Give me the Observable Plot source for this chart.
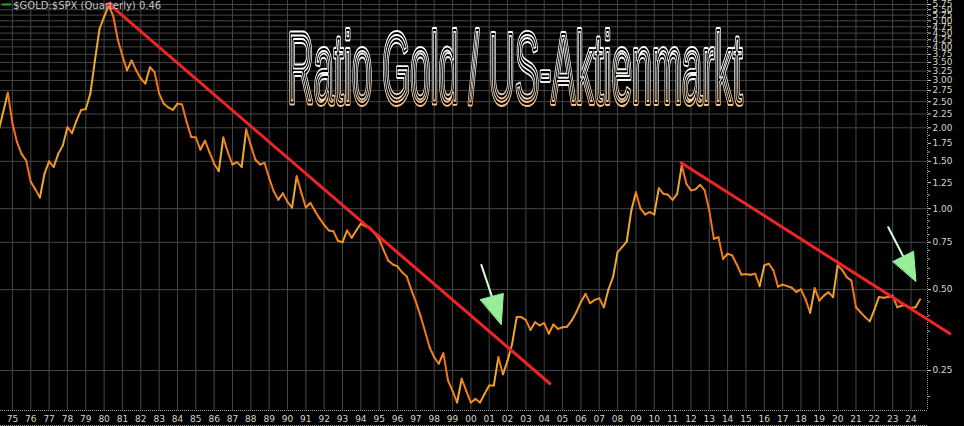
<!DOCTYPE html>
<html><head><meta charset="utf-8">
<script src="https://cdn.jsdelivr.net/npm/d3@7"></script>
<script src="https://cdn.jsdelivr.net/npm/@observablehq/plot@0.6"></script>
<style>html,body{margin:0;padding:0;background:#000;}</style>
</head><body><div id="chart"></div>
<script>
// ---- data ----
const years = [
1974.25,1974.75,1975.0,1975.25,1975.5,1975.75,1976.0,1976.25,1976.5,1976.75,
1977.0,1977.25,1977.5,1977.75,1978.0,1978.25,1978.5,1978.75,1979.0,1979.25,
1979.5,1979.75,1980.0,1980.25,1980.5,1980.75,1981.0,1981.25,1981.5,1981.75,
1982.0,1982.25,1982.5,1982.75,1983.0,1983.25,1983.5,1983.75,1984.0,1984.25,
1984.5,1984.75,1985.0,1985.25,1985.5,1985.75,1986.0,1986.25,1986.5,1986.75,
1987.0,1987.25,1987.5,1987.75,1988.0,1988.25,1988.5,1988.75,1989.0,1989.25,
1989.5,1989.75,1990.0,1990.25,1990.5,1990.75,1991.0,1991.25,1991.5,1991.75,
1992.0,1992.25,1992.5,1992.75,1993.0,1993.25,1993.5,1993.75,1994.0,1994.25,
1994.5,1994.75,1995.0,1995.25,1995.5,1995.75,1996.0,1996.25,1996.5,1996.75,
1997.0,1997.25,1997.5,1997.75,1998.0,1998.25,1998.5,1998.75,1999.0,1999.25,
1999.5,1999.75,2000.0,2000.25,2000.5,2000.75,2001.0,2001.25,2001.5,2001.75,
2002.0,2002.25,2002.5,2002.75,2003.0,2003.25,2003.5,2003.75,2004.0,2004.25,
2004.5,2004.75,2005.0,2005.25,2005.5,2005.75,2006.0,2006.25,2006.5,2006.75,
2007.0,2007.25,2007.5,2007.75,2008.0,2008.25,2008.5,2008.75,2009.0,2009.25,
2009.5,2009.75,2010.0,2010.25,2010.5,2010.75,2011.0,2011.25,2011.5,2011.75,
2012.0,2012.25,2012.5,2012.75,2013.0,2013.25,2013.5,2013.75,2014.0,2014.25,
2014.5,2014.75,2015.0,2015.25,2015.5,2015.75,2016.0,2016.25,2016.5,2016.75,
2017.0,2017.25,2017.5,2017.75,2018.0,2018.25,2018.5,2018.75,2019.0,2019.25,
2019.5,2019.75,2020.0,2020.25,2020.5,2020.75,2021.0,2021.25,2021.5,2021.75,
2022.0,2022.25,2022.5,2022.75,2023.0,2023.25,2023.5,2023.75,2024.0,2024.25,
2024.5];
const ratios = [
1.95,2.70,2.08,1.77,1.60,1.51,1.26,1.18,1.10,1.35,
1.50,1.43,1.60,1.72,2.01,1.91,2.13,2.33,2.35,2.68,
3.56,4.67,5.17,5.70,5.20,4.25,3.70,3.27,3.56,3.27,
3.05,2.92,3.36,3.22,2.68,2.46,2.38,2.33,2.46,2.44,
2.10,1.85,1.84,1.66,1.79,1.62,1.47,1.38,1.84,1.62,
1.46,1.49,1.43,1.97,1.72,1.52,1.46,1.48,1.30,1.16,
1.08,1.14,1.06,1.01,1.32,1.15,1.01,1.05,0.98,0.92,
0.87,0.83,0.825,0.76,0.75,0.83,0.78,0.83,0.88,0.86,
0.85,0.81,0.77,0.70,0.64,0.62,0.61,0.58,0.56,0.50,
0.45,0.40,0.35,0.305,0.28,0.265,0.29,0.23,0.21,0.19,
0.233,0.21,0.19,0.196,0.19,0.205,0.22,0.22,0.28,0.242,
0.272,0.314,0.395,0.395,0.385,0.354,0.378,0.368,0.375,0.343,
0.371,0.357,0.362,0.364,0.384,0.412,0.45,0.482,0.445,0.458,
0.464,0.43,0.50,0.556,0.689,0.72,0.755,0.985,1.152,1.0,
0.952,0.971,0.952,1.192,1.136,1.126,1.079,1.136,1.45,1.238,
1.17,1.18,1.227,1.169,0.985,0.773,0.783,0.651,0.68,0.67,
0.62,0.569,0.57,0.568,0.573,0.515,0.615,0.624,0.589,0.513,
0.522,0.515,0.508,0.49,0.501,0.46,0.41,0.506,0.455,0.475,
0.489,0.469,0.615,0.592,0.556,0.54,0.43,0.412,0.395,0.381,
0.42,0.469,0.466,0.469,0.475,0.43,0.436,0.436,0.427,0.43,
0.46];

// trend lines (year, ratio)
const trend1Years = [1980.23, 2004.30];
const trend1Values = [5.80, 0.2237];
const trend2Years = [2011.46, 2026.11];
const trend2Values = [1.482, 0.343];

// green annotation arrows (year, ratio)
const arrow1ShaftYears = [2000.57, 2001.15];
const arrow1ShaftValues = [0.618, 0.471];
const arrow1HeadYears = [2000.52, 2001.77, 2001.66];
const arrow1HeadValues = [0.459, 0.484, 0.371];
const arrow2ShaftYears = [2022.76, 2023.58];
const arrow2ShaftValues = [0.853, 0.664];
const arrow2HeadYears = [2023.02, 2024.14, 2024.27];
const arrow2HeadValues = [0.636, 0.695, 0.537];

// ticks and labels
const yearTicks = d3.range(1975, 2025);
const yTickValues = [0.25,0.50,0.75,1.00,1.25,1.50,1.75,2.00,2.25,2.50,2.75,3.00,3.25,3.50,3.75,4.00,4.25,4.50,4.75,5.00,5.25,5.50,5.75];
const yMinorTicks = [0.20,0.30,0.35,0.40,0.45,0.55,0.60,0.65,0.70,0.80,0.85,0.90,0.95,1.125,1.375,1.625,1.875];
const yGridValues = [0.25,0.50,0.75,1.00,1.50,2.00,2.25,2.50,2.75,3.00,3.25,3.50,3.75,4.00,4.25,4.50,4.75,5.00,5.25,5.50,5.75];
const legendLabel = "$GOLD:$SPX (Quarterly) 0.46";
const titleText = "Ratio Gold / US-Aktienmarkt";

// ---- build ----
const zip = (xs, ys) => xs.map((year, i) => ({year, ratio: ys[i]}));
const pts = zip(years, ratios);
const riseColor = "#e9ac2c", fallColor = "#f4701a";
const segs = d3.pairs(pts).map(([a, b]) => {
  const t = Math.max(0, Math.min(1, 0.5 + 3 * Math.log(b.ratio / a.ratio)));
  return {x1: a.year, y1: a.ratio, x2: b.year, y2: b.ratio, color: d3.interpolateRgb(fallColor, riseColor)(t)};
});

const xDomain = [1974.35, 2024.9];
const yDomain = [0.1775, 5.95];
const gridColor = "#464646";
const textColor = "#d6d6c6";
const titleFont = "'Liberation Sans', sans-serif";

const chart = Plot.plot({
  width: 964, height: 426,
  marginLeft: 0, marginRight: 37, marginTop: 0, marginBottom: 16,
  style: {background: "#000", color: textColor, fontFamily: "'DejaVu Sans', sans-serif", fontSize: "9px", overflow: "visible"},
  x: {domain: xDomain},
  y: {type: "log", domain: yDomain},
  marks: [
    Plot.gridX(yearTicks, {stroke: gridColor, strokeOpacity: 1}),
    Plot.gridY(yGridValues, {stroke: gridColor, strokeOpacity: 1}),
    Plot.text([titleText], {frameAnchor: "top-left", dx: 287, dy: 31.7, lineAnchor: "top", textAnchor: "start",
      fontSize: 100, fontFamily: titleFont,
      fill: "#000", stroke: "url(#titleGrad)", strokeWidth: 6, paintOrder: "normal"}),
    Plot.text([titleText], {frameAnchor: "top-left", dx: 287, dy: 31.7, lineAnchor: "top", textAnchor: "start",
      fontSize: 100, fontFamily: titleFont,
      fill: "none", stroke: "#000", strokeWidth: 2.2, paintOrder: "normal"}),
    Plot.ruleX([xDomain[1]], {stroke: "#9a9a9a", strokeDasharray: "1,1"}),
    Plot.ruleY([yDomain[0]], {stroke: "#9a9a9a", strokeDasharray: "1,1"}),
    Plot.ruleY([yDomain[0]], {stroke: "#9a9a9a", strokeDasharray: "1,1", dy: 15}),
    Plot.axisX(yearTicks, {tickFormat: d => String(d % 100).padStart(2, "0"), tickSize: 0, tickPadding: 5, label: null, color: textColor}),
    Plot.axisY(yTickValues, {anchor: "right", tickFormat: d3.format(".2f"), tickSize: 3, tickPadding: 2, label: null, color: textColor}),
    Plot.axisY(yMinorTicks, {anchor: "right", tickFormat: () => "", tickSize: 2, label: null, color: "#aaa"}),
    Plot.link(segs, {x1: "x1", y1: "y1", x2: "x2", y2: "y2", stroke: "color", strokeWidth: 2, strokeLinecap: "round"}),
    Plot.line(zip(trend1Years, trend1Values), {x: "year", y: "ratio", stroke: "#f02424", strokeWidth: 3}),
    Plot.line(zip(trend2Years, trend2Values), {x: "year", y: "ratio", stroke: "#f02424", strokeWidth: 3}),
    Plot.line(zip(arrow1ShaftYears, arrow1ShaftValues), {x: "year", y: "ratio", stroke: "#d8fcd8", strokeWidth: 2}),
    Plot.line(zip(arrow1HeadYears, arrow1HeadValues), {x: "year", y: "ratio", fill: "#98ee98", stroke: "#98ee98", strokeWidth: 1, curve: "linear-closed"}),
    Plot.line(zip(arrow2ShaftYears, arrow2ShaftValues), {x: "year", y: "ratio", stroke: "#d8fcd8", strokeWidth: 2}),
    Plot.line(zip(arrow2HeadYears, arrow2HeadValues), {x: "year", y: "ratio", fill: "#98ee98", stroke: "#98ee98", strokeWidth: 1, curve: "linear-closed"}),
    Plot.text([legendLabel], {frameAnchor: "top-left", dx: 12.7, dy: 1.3, lineAnchor: "top", textAnchor: "start", fontSize: 10, fill: "#c4c4c4"})
  ]
});

const svg = d3.select(chart);
const defs = svg.insert("defs", ":first-child");
const grad = defs.append("linearGradient").attr("id", "titleGrad")
  .attr("gradientUnits", "userSpaceOnUse").attr("x1", 0).attr("y1", 28).attr("x2", 0).attr("y2", 104);
grad.append("stop").attr("offset", "0%").attr("stop-color", "#ffffff");
grad.append("stop").attr("offset", "30%").attr("stop-color", "#f4eee8");
grad.append("stop").attr("offset", "55%").attr("stop-color", "#f2c898");
grad.append("stop").attr("offset", "80%").attr("stop-color", "#f0a050");
grad.append("stop").attr("offset", "100%").attr("stop-color", "#ee8a2a");
svg.selectAll("text").filter(function() { return this.textContent === titleText; })
  .attr("textLength", 455).attr("lengthAdjust", "spacingAndGlyphs");
// legend swatch
svg.append("line").attr("x1", 2).attr("x2", 11).attr("y1", 4.5).attr("y2", 4.5).attr("stroke", "#2aa52a").attr("stroke-width", 2);

document.getElementById("chart").appendChild(chart);
</script></body></html>
